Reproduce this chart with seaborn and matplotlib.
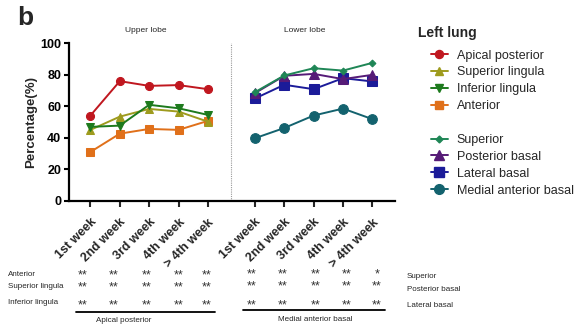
import numpy as np
import pandas as pd
import matplotlib
matplotlib.use("Agg")
import matplotlib.pyplot as plt
import seaborn as sns
from matplotlib.lines import Line2D

sns.set_theme(style="ticks")
plt.rcParams['font.family'] = ['Liberation Sans', 'DejaVu Sans']

# ---------------- data ----------------
weeks = ["1st week", "2nd week", "3rd week", "4th week", "> 4th week"]

upper_names = ["Apical posterior", "Superior lingula", "Inferior lingula", "Anterior"]
apical_posterior = [54.2, 76.0, 73.0, 73.5, 70.9]
superior_lingula = [45.1, 53.5, 58.4, 56.7, 50.3]
inferior_lingula = [47.0, 47.8, 61.0, 58.8, 54.6]
anterior = [31.1, 42.7, 45.7, 45.1, 50.8]

lower_names = ["Superior", "Posterior basal", "Lateral basal", "Medial anterior basal"]
superior = [69.0, 79.6, 84.2, 82.7, 87.6]
posterior_basal = [68.4, 79.4, 80.6, 77.3, 80.0]
lateral_basal = [65.0, 73.7, 70.9, 77.9, 75.8]
medial_anterior_basal = [39.8, 46.3, 54.2, 58.6, 51.9]

upper_stars = [["**", "**", "**", "**", "**"],
               ["**", "**", "**", "**", "**"],
               ["**", "**", "**", "**", "**"]]
lower_stars = [["**", "**", "**", "**", "*"],
               ["**", "**", "**", "**", "**"],
               ["**", "**", "**", "**", "**"]]
upper_row_labels = ["Anterior", "Superior lingula", "Inferior lingula"]
lower_row_labels = ["Superior", "Posterior basal", "Lateral basal"]
upper_ref = "Apical posterior"
lower_ref = "Medial anterior basal"

# ---------------- styling ----------------
colors = {
    "Apical posterior": "#C0171F",
    "Superior lingula": "#9E9B1E",
    "Inferior lingula": "#1D7A1D",
    "Anterior": "#E0701A",
    "Superior": "#1F8656",
    "Posterior basal": "#561B77",
    "Lateral basal": "#1B1B99",
    "Medial anterior basal": "#13626E",
}
markers = {
    "Apical posterior": ("o", 5.8),
    "Superior lingula": ("^", 5.5),
    "Inferior lingula": ("v", 5.5),
    "Anterior": ("s", 5.5),
    "Superior": ("D", 3.5),
    "Posterior basal": ("^", 7.0),
    "Lateral basal": ("s", 6.5),
    "Medial anterior basal": ("o", 7.0),
}

W, H = 581, 329
fig = plt.figure(figsize=(W / 100, H / 100), dpi=100)

def fx(x):
    return x / W

def fy(y):
    return 1 - y / H

ax = fig.add_axes([fx(69), fy(201), fx(395) - fx(69), fy(43.3) - fy(201)])

offset_lower = 5.6
upper_pos = np.arange(len(weeks), dtype=float)
lower_pos = upper_pos + offset_lower

series = {
    "Apical posterior": (upper_pos, apical_posterior),
    "Superior lingula": (upper_pos, superior_lingula),
    "Inferior lingula": (upper_pos, inferior_lingula),
    "Anterior": (upper_pos, anterior),
    "Superior": (lower_pos, superior),
    "Posterior basal": (lower_pos, posterior_basal),
    "Lateral basal": (lower_pos, lateral_basal),
    "Medial anterior basal": (lower_pos, medial_anterior_basal),
}

for name in ["Anterior", "Superior lingula", "Inferior lingula", "Apical posterior",
             "Medial anterior basal", "Lateral basal", "Posterior basal", "Superior"]:
    pos, vals = series[name]
    df = pd.DataFrame({"pos": pos, "value": vals})
    m, ms = markers[name]
    sns.lineplot(data=df, x="pos", y="value", ax=ax, color=colors[name],
                 marker=m, markersize=ms, markeredgecolor=colors[name],
                 linewidth=1.4, legend=False)

ax.axvline((upper_pos[-1] + lower_pos[0]) / 2, color="#9a9a9a", lw=0.8,
           ls=(0, (1, 1)))

ax.set_xlim(-0.73, 10.37)
ax.set_ylim(0, 100)
ax.set_yticks([0, 20, 40, 60, 80, 100])
ax.set_xticks(np.concatenate([upper_pos, lower_pos]))
ax.set_xticklabels(weeks + weeks, rotation=45, ha="right",
                   rotation_mode="anchor", fontsize=9, fontweight="bold")
for lab in ax.get_yticklabels():
    lab.set_fontweight("bold")
ax.tick_params(axis="y", labelsize=9, width=1.5, length=3.5, pad=2, colors="black")
ax.tick_params(axis="x", width=1.5, length=4, pad=7)
ax.set_xlabel("")
ax.set_ylabel("Percentage(%)", fontsize=9.5, fontweight="bold", labelpad=2)
for s in ["top", "right"]:
    ax.spines[s].set_visible(False)
for s in ["left", "bottom"]:
    ax.spines[s].set_linewidth(1.6)
    ax.spines[s].set_color("black")

# ---------------- texts ----------------
fig.text(fx(17), fy(25), "b", fontsize=19, fontweight="bold", ha="left", va="baseline")
fig.text(fx(146), fy(31), "Upper lobe", fontsize=6, ha="center", va="center")
fig.text(fx(305), fy(31), "Lower lobe", fontsize=6, ha="center", va="center")

# legend
fig.text(fx(418), fy(33), "Left lung", fontsize=10, fontweight="bold",
         ha="left", va="center")
handles = []
labels = []
for name in upper_names:
    m, ms = markers[name]
    handles.append(Line2D([], [], color=colors[name], marker=m, markersize=ms,
                          markeredgecolor=colors[name], lw=1.4))
    labels.append(name)
handles.append(Line2D([], [], color="none"))
labels.append(" ")
for name in lower_names:
    m, ms = markers[name]
    handles.append(Line2D([], [], color=colors[name], marker=m, markersize=ms,
                          markeredgecolor=colors[name], lw=1.4))
    labels.append(name)
leg = fig.legend(handles, labels, loc="upper left",
                 bbox_to_anchor=(fx(431), fy(49.5)), frameon=False,
                 fontsize=9, handlelength=1.35, handletextpad=0.7,
                 labelspacing=0.39, borderaxespad=0, borderpad=0)

# significance table
upper_star_x = [82.7, 113.3, 146.7, 178.3, 206.7]
lower_star_x = [251.7, 282.7, 316.0, 346.7, 376.7]
upper_row_y = [273.3, 285.0, 303.3]
lower_row_y = [271.7, 284.0, 302.7]
label_row_y = [275.0, 286.7, 302.3]
right_row_y = [276.3, 289.6, 305.6]

for r in range(3):
    fig.text(fx(7.5), fy(label_row_y[r]), upper_row_labels[r], fontsize=5.8,
             ha="left", va="center")
    fig.text(fx(407), fy(right_row_y[r]), lower_row_labels[r], fontsize=5.8,
             ha="left", va="center")
    for c in range(5):
        fig.text(fx(upper_star_x[c]), fy(upper_row_y[r] + 2.5), upper_stars[r][c],
                 fontsize=9, ha="center", va="center", color="#333333")
        fig.text(fx(lower_star_x[c]), fy(lower_row_y[r] + 2.5), lower_stars[r][c],
                 fontsize=9, ha="center", va="center", color="#333333")

fig.add_artist(Line2D([fx(76), fx(215)], [fy(311.7), fy(311.7)], color="black", lw=1.3))
fig.add_artist(Line2D([fx(243.3), fx(385)], [fy(310), fy(310)], color="black", lw=1.3))
fig.text(fx(124), fy(320), upper_ref, fontsize=5.8, ha="center", va="center")
fig.text(fx(315), fy(319.3), lower_ref, fontsize=5.8, ha="center", va="center")

fig.savefig("out.png", dpi=100, facecolor="white")
